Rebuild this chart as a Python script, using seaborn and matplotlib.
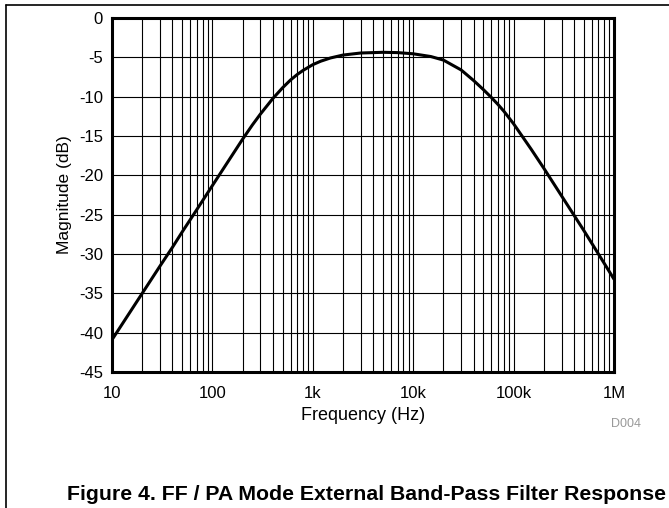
import matplotlib
matplotlib.use("Agg")
import matplotlib.pyplot as plt
import seaborn as sns
import pandas as pd
import numpy as np
from matplotlib.lines import Line2D
from matplotlib.ticker import FixedLocator, NullFormatter, LogLocator

freq_hz = [10, 15, 20, 30, 40, 50, 70, 100, 150, 200, 250, 300, 400, 500,
           600, 700, 800, 1000, 1200, 1500, 2000, 3000, 5000, 7000, 10000,
           15000, 20000, 30000, 40000, 50000, 60000, 70000, 80000, 100000,
           150000, 200000, 300000, 500000, 700000, 1000000]
magnitude_db = [-40.9, -37.45, -35.0, -31.55, -29.15, -27.2, -24.35, -21.3,
                -17.85, -15.4, -13.6, -12.23, -10.23, -8.87, -7.88, -7.18,
                -6.66, -5.93, -5.49, -5.08, -4.71, -4.45, -4.36, -4.4, -4.55,
                -4.9, -5.35, -6.6, -7.95, -9.1, -10.1, -11.0, -11.85, -13.45,
                -16.7, -19.1, -22.6, -27.0, -30.0, -33.2]
xtick_vals = [10, 100, 1000, 10000, 100000, 1000000]
xtick_labels = ["10", "100", "1k", "10k", "100k", "1M"]
ytick_vals = [0, -5, -10, -15, -20, -25, -30, -35, -40, -45]

sns.set_style("white")
plt.rcParams['font.family'] = ['Liberation Sans', 'DejaVu Sans']
plt.rcParams['text.color'] = 'black'
plt.rcParams['axes.labelcolor'] = 'black'

df = pd.DataFrame({"freq": freq_hz, "mag": magnitude_db})

fig = plt.figure(figsize=(6.69, 5.08), dpi=100)
ax = fig.add_axes([112/669, 1-372/508, (614-112)/669, (372-18)/508])

ax.set_xscale("log")
sns.lineplot(data=df, x="freq", y="mag", ax=ax, color="black", linewidth=2.2,
             zorder=5)

ax.set_xlim(10, 1e6)
ax.set_ylim(-45, 0)
ax.xaxis.set_major_locator(FixedLocator(xtick_vals))
ax.set_xticklabels(xtick_labels)
ax.xaxis.set_minor_locator(LogLocator(base=10, subs=np.arange(2, 10), numticks=20))
ax.xaxis.set_minor_formatter(NullFormatter())
ax.yaxis.set_major_locator(FixedLocator(ytick_vals))
ax.set_yticklabels([str(v) for v in ytick_vals])

ax.grid(True, which="major", color="black", linewidth=0.8)
ax.grid(True, which="minor", axis="x", color="black", linewidth=0.8)
ax.tick_params(which="both", length=0, labelsize=12, colors="black")
ax.tick_params(axis="x", pad=10)
ax.tick_params(axis="y", pad=6.5)

for s in ax.spines.values():
    s.set_visible(True)
    s.set_color("black")
    s.set_linewidth(2.2)

ax.set_xlabel("Frequency (Hz)", fontsize=13, labelpad=4.5)
ax.set_ylabel("Magnitude (dB)", fontsize=12.5, labelpad=5)

fig.text(625.5/669, 1-424/508, "D004", fontsize=9, color="#999999",
         ha="center", va="center")
fig.text(67/669, 1-495/508, "Figure 4. FF / PA Mode External Band-Pass Filter Response",
         fontsize=15.3, fontweight="bold", ha="left", va="center")

fig.add_artist(Line2D([6/669, 1], [1-5/508, 1-5/508], color="black", linewidth=1.2,
                      transform=fig.transFigure))
fig.add_artist(Line2D([6/669, 6/669], [1-5/508, 0], color="black", linewidth=1.2,
                      transform=fig.transFigure))

fig.savefig("out.png", dpi=100)
